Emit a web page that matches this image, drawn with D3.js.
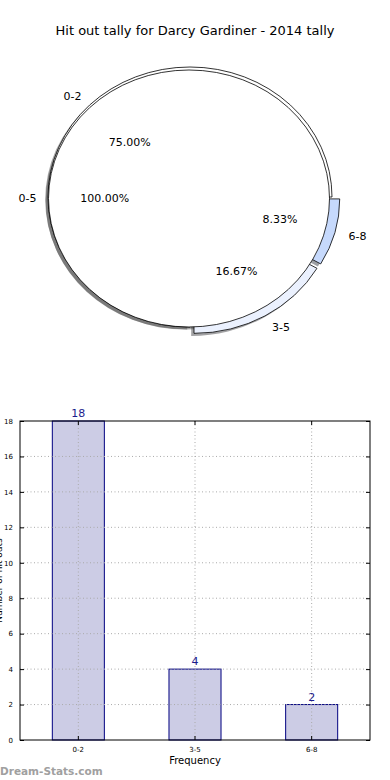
<!DOCTYPE html>
<html><head><meta charset="utf-8">
<script src="https://cdn.jsdelivr.net/npm/d3@7"></script>
<style>
html,body{margin:0;padding:0;background:#fff;}
svg{display:block;font-family:"DejaVu Sans",sans-serif;}
</style></head>
<body>
<svg id="chart" width="390" height="780"></svg>
<script>
const title = "Hit out tally for Darcy Gardiner - 2014 tally";
const categories = ["0-2", "3-5", "6-8"];
const counts = [18, 4, 2];
const pieColors = ["#ffffff", "#ebf1fe", "#c6d9fc"];
const explode = [0, 8, 8];
const innerCategories = ["0-5"];
const innerValues = [24];
const yTicks = [0, 2, 4, 6, 8, 10, 12, 14, 16, 18];
const xLabel = "Frequency";
const yLabel = "Number of hit outs";
const watermark = "Dream-Stats.com";

const svg = d3.select("#chart");

svg.append("text").attr("x", 195).attr("y", 35).attr("text-anchor", "middle")
  .attr("font-size", 13).attr("fill", "#000").text(title);

// ---------- PIE ----------
const pie = d3.pie().sort(null).startAngle(Math.PI / 2).endAngle(Math.PI / 2 - 2 * Math.PI);
const outerArcs = pie(counts);
const innerArcs = pie(innerValues);

const outer = {cx: 190, cy: 197, r: 142, ry: 130};
const inner = {cx: 189, cy: 198.5, r: 140.5, ry: 128.5};
const shadowOff = [-2.8, 2.6];

function offsetFor(a, e) {
  const m = (a.startAngle + a.endAngle) / 2;
  return [Math.sin(m) * e, -Math.cos(m) * e];
}
function shade(c) {
  const col = d3.rgb(c);
  return d3.rgb(col.r * 0.3, col.g * 0.3, col.b * 0.3);
}

const pieLayer = svg.append("g");
const shadowLayer = pieLayer.append("g");
const wedgeLayer = pieLayer.append("g");
const innerLayer = pieLayer.append("g");

const arcOuter = d3.arc().innerRadius(0).outerRadius(outer.r);
const arcInner = d3.arc().innerRadius(0).outerRadius(inner.r);

outerArcs.forEach((a, i) => {
  const [dx, dy] = offsetFor(a, explode[i]);
  shadowLayer.append("g")
    .attr("transform", `translate(${outer.cx + shadowOff[0]},${outer.cy + shadowOff[1]}) scale(1,${outer.ry / outer.r}) translate(${dx},${dy})`)
    .append("path").attr("d", arcOuter(a))
    .attr("fill", shade(pieColors[i])).attr("fill-opacity", 0.5)
    .attr("stroke", "none");
});
innerArcs.forEach(a => {
  shadowLayer.append("g")
    .attr("transform", `translate(${inner.cx + shadowOff[0]},${inner.cy + shadowOff[1]}) scale(1,${inner.ry / inner.r})`)
    .append("path").attr("d", arcInner(a))
    .attr("fill", "#4d4d4d").attr("fill-opacity", 0.5).attr("stroke", "none");
});
outerArcs.forEach((a, i) => {
  const [dx, dy] = offsetFor(a, explode[i]);
  wedgeLayer.append("g")
    .attr("transform", `translate(${outer.cx},${outer.cy}) scale(1,${outer.ry / outer.r}) translate(${dx},${dy})`)
    .append("path").attr("d", arcOuter(a))
    .attr("fill", pieColors[i]).attr("stroke", "#000").attr("stroke-width", 0.8)
    .attr("vector-effect", "non-scaling-stroke").attr("stroke-linejoin", "round");
});
innerArcs.forEach(a => {
  innerLayer.append("g")
    .attr("transform", `translate(${inner.cx},${inner.cy}) scale(1,${inner.ry / inner.r})`)
    .append("path").attr("d", arcInner(a))
    .attr("fill", "#ffffff").attr("stroke", "#000").attr("stroke-width", 0.8)
    .attr("vector-effect", "non-scaling-stroke");
});

function addLabels(arcs, cats, vals, geo, exp) {
  const sum = d3.sum(vals);
  arcs.forEach((a, i) => {
    const m = (a.startAngle + a.endAngle) / 2;
    const [dx, dy] = exp ? offsetFor(a, exp[i]) : [0, 0];
    const sx = Math.sin(m), sy = -Math.cos(m);
    const sc = geo.ry / geo.r;
    const lx = geo.cx + dx + sx * geo.r * 1.1;
    const ly = geo.cy + (dy + sy * geo.r * 1.1) * sc;
    pieLayer.append("text").attr("x", lx + (sx < 0 ? 2 : 0)).attr("y", ly).attr("dy", "0.35em")
      .attr("text-anchor", sx < 0 ? "end" : "start").attr("font-size", 11)
      .text(cats[i]);
    const px = geo.cx + dx + sx * geo.r * 0.6;
    const py = geo.cy + (dy + sy * geo.r * 0.6) * sc;
    pieLayer.append("text").attr("x", px).attr("y", py).attr("dy", "0.35em")
      .attr("text-anchor", "middle").attr("font-size", 11)
      .text((vals[i] / sum * 100).toFixed(2) + "%");
  });
}
addLabels(outerArcs, categories, counts, outer, explode);
addLabels(innerArcs, innerCategories, innerValues, inner, null);

// ---------- BAR ----------
const bx0 = 20, bx1 = 370, by0 = 421, by1 = 740;
const x = d3.scaleBand().domain(categories).range([bx0, bx1]).paddingInner(0.554).paddingOuter(0.277);
const y = d3.scaleLinear().domain([0, 18]).range([by1, by0]);

const bar = svg.append("g");
bar.selectAll("rect").data(categories).join("rect")
  .attr("x", d => x(d)).attr("width", x.bandwidth())
  .attr("y", (d, i) => y(counts[i])).attr("height", (d, i) => y(0) - y(counts[i]))
  .attr("fill", "#ccccE5").attr("stroke", "#000080").attr("stroke-width", 1);

bar.selectAll(".vg").data(categories).join("line")
  .attr("x1", d => x(d) + x.bandwidth() / 2).attr("x2", d => x(d) + x.bandwidth() / 2)
  .attr("y1", by0).attr("y2", by1)
  .attr("stroke", "#aaa").attr("stroke-width", 1).attr("stroke-dasharray", "1,2.5");
bar.selectAll(".hg").data(yTicks.filter(t => t > 0 && t < 18)).join("line")
  .attr("x1", bx0).attr("x2", bx1).attr("y1", d => y(d)).attr("y2", d => y(d))
  .attr("stroke", "#aaa").attr("stroke-width", 1).attr("stroke-dasharray", "1,2.5");

bar.selectAll(".vl").data(categories).join("text")
  .attr("x", d => x(d) + x.bandwidth() / 2).attr("y", (d, i) => y(counts[i]) - 4)
  .attr("text-anchor", "middle").attr("font-size", 11).attr("fill", "#1c1c8c")
  .text((d, i) => counts[i]);

bar.append("rect").attr("x", bx0).attr("y", by0).attr("width", bx1 - bx0).attr("height", by1 - by0)
  .attr("fill", "none").attr("stroke", "#000").attr("stroke-width", 1);

const yAxisL = d3.axisLeft(y).tickValues(yTicks).tickSize(-4).tickPadding(7);
const gL = svg.append("g").attr("transform", `translate(${bx0},0)`).call(yAxisL);
gL.select(".domain").remove();
gL.selectAll("text").attr("font-size", 7).attr("font-family", "DejaVu Sans, sans-serif").attr("fill", "#000");
gL.selectAll("line").attr("stroke", "#000");
const yAxisR = d3.axisRight(y).tickValues(yTicks).tickSize(-4).tickFormat("");
const gR = svg.append("g").attr("transform", `translate(${bx1},0)`).call(yAxisR);
gR.select(".domain").remove();
gR.selectAll("line").attr("stroke", "#000");

const xAxisB = d3.axisBottom(x).tickSize(-4).tickPadding(7);
const gB = svg.append("g").attr("transform", `translate(0,${by1})`).call(xAxisB);
gB.select(".domain").remove();
gB.selectAll("text").attr("font-size", 7).attr("font-family", "DejaVu Sans, sans-serif").attr("fill", "#000");
gB.selectAll("line").attr("stroke", "#000");
const xAxisT = d3.axisTop(x).tickSize(-4).tickFormat("");
const gT = svg.append("g").attr("transform", `translate(0,${by0})`).call(xAxisT);
gT.select(".domain").remove();
gT.selectAll("line").attr("stroke", "#000");

svg.append("text").attr("x", (bx0 + bx1) / 2).attr("y", 764).attr("text-anchor", "middle")
  .attr("font-size", 10).text(xLabel);

svg.append("text").attr("transform", `translate(2,${(by0 + by1) / 2}) rotate(-90)`)
  .attr("text-anchor", "middle").attr("font-size", 9).text(yLabel);

svg.append("text").attr("x", 0).attr("y", 775).attr("font-size", 10.5).attr("font-weight", "bold")
  .attr("fill", "#a0a0a0").text(watermark);
</script>
</body></html>
